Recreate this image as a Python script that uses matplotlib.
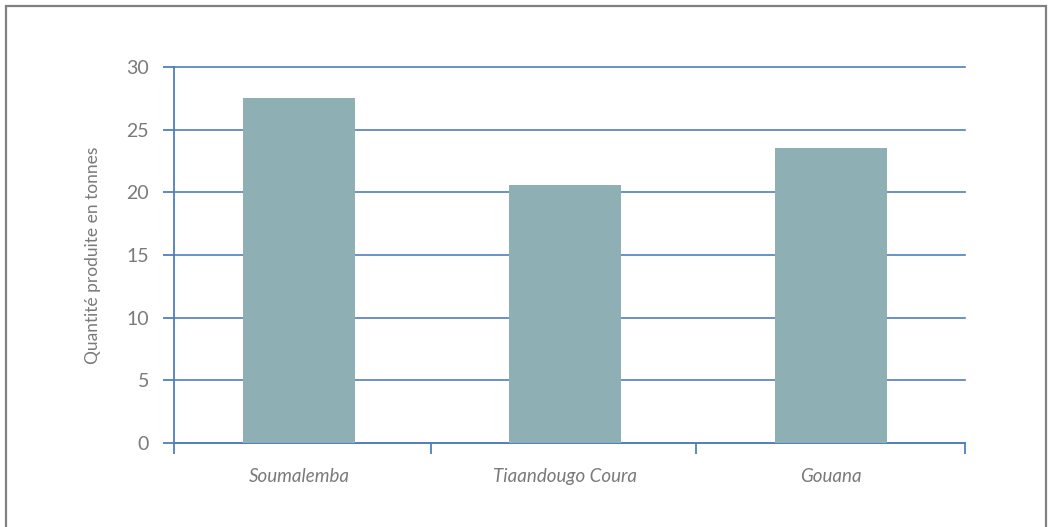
import matplotlib
matplotlib.use("Agg")
import matplotlib.pyplot as plt
from matplotlib.patches import Rectangle

categories = ["Soumalemba", "Tiaandougo Coura", "Gouana"]
quantities = [27.5, 20.6, 23.5]
y_ticks = [0, 5, 10, 15, 20, 25, 30]

BLUE = "#4f7fbd"
BAR = "#8eafb4"
TEXT = "#7a7a7a"

plt.rcParams["font.family"] = ["Lato", "DejaVu Sans"]

fig = plt.figure(figsize=(10.49, 5.27), dpi=100)
ax = fig.add_axes([174 / 1049, 1 - 443 / 527, (965 - 174) / 1049, (443 - 67) / 527])

# outer frame
fig.patches.append(Rectangle((6 / 1049, -0.01), (1046 - 6) / 1049, 1 - 6 / 527 + 0.01,
                             transform=fig.transFigure, fill=False,
                             edgecolor="#808080", linewidth=1.6))

x = range(len(categories))
ax.bar(x, quantities, width=0.42, color=BAR, zorder=3)

x_left, x_right = -0.47, 2.504
ax.set_xlim(x_left, x_right)
ax.set_ylim(0, 30)
ax.set_yticks(y_ticks)
ax.yaxis.grid(True, color=BLUE, linewidth=1.2, zorder=1)
for gl in ax.get_ygridlines():
    gl.set_clip_on(False)
ax.set_axisbelow(True)

for side in ["top", "right"]:
    ax.spines[side].set_visible(False)
for side in ["left", "bottom"]:
    ax.spines[side].set_color(BLUE)
    ax.spines[side].set_linewidth(1.3)

# category boundary ticks along the x axis
ax.set_xticks([x_left, 0.496, 1.4925, x_right])
ax.set_xticklabels([])
ax.tick_params(axis="x", direction="out", length=8, width=1.3, color=BLUE)
ax.tick_params(axis="y", direction="out", length=8, width=1.3, color=BLUE,
               labelsize=14, labelcolor=TEXT, pad=10)
for i, name in enumerate(categories):
    ax.text(i, -2.0, name, ha="center", va="top", fontsize=13.5, style="italic",
            color=TEXT, transform=ax.transData)

ax.set_ylabel("Quantité produite en tonnes", fontsize=12.5, color=TEXT)
ax.yaxis.set_label_coords(-0.092, 0.5)

fig.savefig("out.png", dpi=100)
